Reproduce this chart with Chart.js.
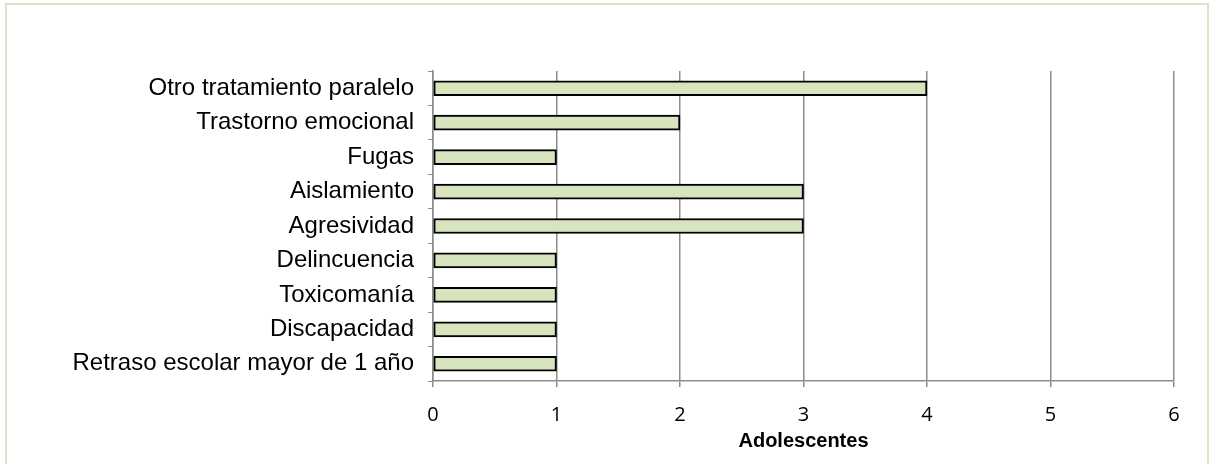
<!DOCTYPE html>
<html>
<head>
<meta charset="utf-8">
<script src="https://cdn.jsdelivr.net/npm/chart.js@4"></script>
<style>
  html, body { margin: 0; padding: 0; background: #fff; }
  #wrap { position: relative; width: 1215px; height: 464px; overflow: hidden; }
  #frame { position: absolute; left: 5px; top: 3px; width: 1204px; height: 480px; border: 2px solid #e3dfcb; box-sizing: border-box; }
  canvas { position: absolute; left: 0; top: 0; }
</style>
</head>
<body>
<div id="wrap">
  <div id="frame"></div>
  <canvas id="chart" width="1215" height="464"></canvas>
</div>
<script>
// categories top -> bottom, as in the picture
const categories = [
  'Otro tratamiento paralelo',
  'Trastorno emocional',
  'Fugas',
  'Aislamiento',
  'Agresividad',
  'Delincuencia',
  'Toxicomanía',
  'Discapacidad',
  'Retraso escolar mayor de 1 año'
];
const adolescentes = [4, 2, 1, 3, 3, 1, 1, 1, 1];
const xMin = 0;
const xMax = 6;
const xTitle = 'Adolescentes';

const axisGray = '#8c8c8c';

const ctx = document.getElementById('chart').getContext('2d');
new Chart(ctx, {
  type: 'bar',
  data: {
    labels: categories,
    datasets: [{
      label: xTitle,
      data: adolescentes,
      backgroundColor: '#d7e4bd',
      borderColor: '#000000',
      borderWidth: 2,
      borderSkipped: false,
      barThickness: 15
    }]
  },
  options: {
    indexAxis: 'y',
    responsive: false,
    animation: false,
    layout: { padding: { left: 0, top: 71, right: 41, bottom: 0 } },
    plugins: { legend: { display: false }, tooltip: { enabled: false } },
    scales: {
      x: {
        min: xMin,
        max: xMax,
        ticks: { stepSize: 1, color: '#000', padding: 16, font: { family: 'Open Sans', size: 20 } },
        grid: { color: axisGray, lineWidth: 1.5, tickLength: 6, drawTicks: true },
        border: { color: axisGray, width: 1.5 },
        title: { display: true, text: xTitle, color: '#000', padding: { top: 0, bottom: 11 },
                 font: { family: 'Liberation Sans', size: 20, weight: 'bold' } },
        afterFit: (s) => { s.height = 83; }
      },
      y: {
        ticks: { color: '#000', padding: 14, font: { family: 'Liberation Sans', size: 24 } },
        grid: { drawOnChartArea: false, offset: true, color: axisGray, tickLength: 5 },
        border: { color: axisGray, width: 1.5 },
        afterFit: (s) => { s.width = 433; }
      }
    }
  }
});
</script>
</body>
</html>
